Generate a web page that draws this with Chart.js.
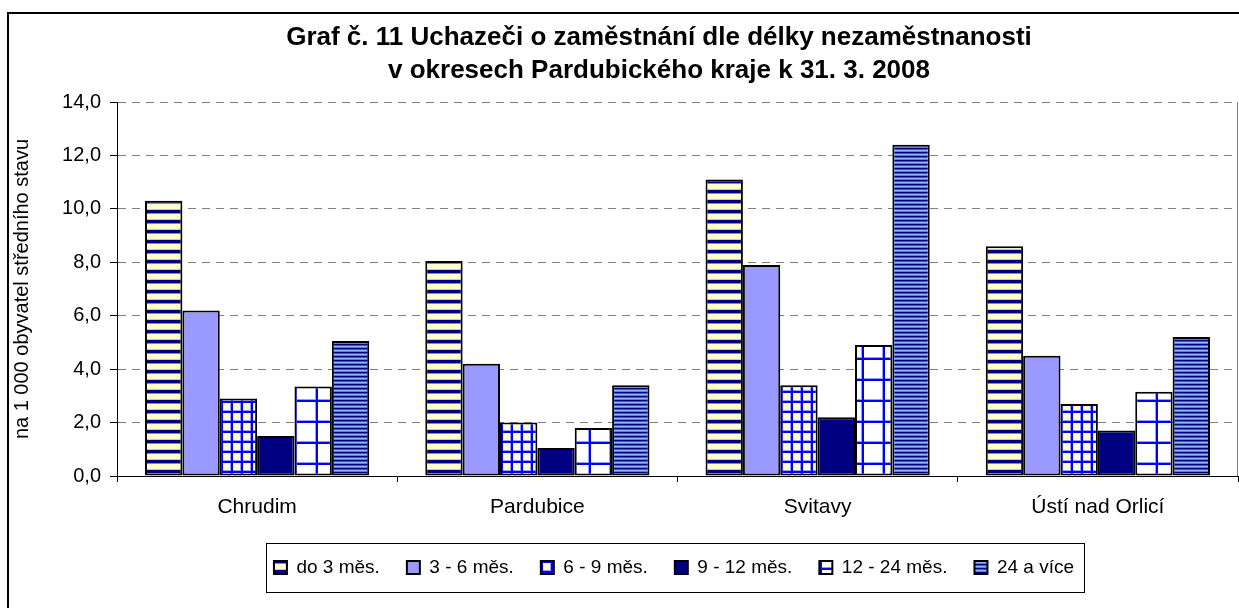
<!DOCTYPE html>
<html lang="cs">
<head>
<meta charset="UTF-8">
<title>Graf č. 11</title>
<script src="https://cdn.jsdelivr.net/npm/chart.js"></script>
<style>
  html, body { margin: 0; padding: 0; background: #fff; }
  #wrap { position: relative; width: 1239px; height: 608px; }
</style>
</head>
<body>
<div id="wrap"><canvas id="chart"></canvas></div>
<script>
// data
const categories = ['Chrudim', 'Pardubice', 'Svitavy', 'Ústí nad Orlicí'];
const seriesNames = ['do 3 měs.', '3 - 6 měs.', '6 - 9 měs.', '9 - 12 měs.', '12 - 24 měs.', '24 a více'];
const do3 = [10.3, 8.05, 11.1, 8.6];
const m3to6 = [6.2, 4.2, 7.9, 4.5];
const m6to9 = [2.9, 2.0, 3.4, 2.7];
const m9to12 = [1.5, 1.05, 2.2, 1.7];
const m12to24 = [3.35, 1.8, 4.9, 3.15];
const m24plus = [5.05, 3.4, 12.4, 5.2];
const yTicks = [0, 2, 4, 6, 8, 10, 12, 14];

const FONT = 'Liberation Sans, Arial, sans-serif';

// small tiles used as fill patterns
function tile(w, h, draw) {
  const c = document.createElement('canvas');
  c.width = w; c.height = h;
  const g = c.getContext('2d');
  draw(g);
  return g.createPattern(c, 'repeat');
}
function rows(colors) {
  return tile(4, colors.length, g => {
    colors.forEach((col, i) => { g.fillStyle = col; g.fillRect(0, i, 4, 1); });
  });
}
const stripeYellow = rows(['#000080', '#000080', '#000080', '#8a8aa6', '#ffffcc', '#ffffcc', '#ffffcc', '#ffffcc', '#ffffcc', '#c8c8b4']);
const stripeBlue = rows(['#000080', '#3d5fb8', '#8fb4f5', '#5b80d2']);
function grid(size, bg) {
  return tile(size, size, g => {
    g.fillStyle = bg; g.fillRect(0, 0, size, size);
    g.fillStyle = '#9a9aff';
    g.fillRect(0, 0, 3, size); g.fillRect(0, 0, size, 3);
    g.fillStyle = '#0000ff';
    g.fillRect(1, 0, 2, size); g.fillRect(0, 1, size, 2);
  });
}
const gridYellow = grid(10, '#ffffcc');
const gridWhite = grid(21, '#ffffff');

const fills = [stripeYellow, '#9999ff', gridYellow, '#000080', gridWhite, stripeBlue];
const values = [do3, m3to6, m6to9, m9to12, m12to24, m24plus];

const frame = {
  id: 'frame',
  afterLayout(chart) {
    // the original frame runs past the right edge, so title and legend sit right of centre
    const t = chart.titleBlock;
    t.left += 35; t.right += 35;
    const lg = chart.legend;
    lg.left += 50; lg.right += 50;
  },
  afterDraw(chart) {
    const ctx = chart.ctx;
    const a = chart.chartArea;
    ctx.save();
    // outer frame (only top and left visible)
    ctx.strokeStyle = '#000';
    ctx.lineWidth = 2;
    ctx.strokeRect(8, 13, 1300, 700);
    // plot area right edge
    ctx.strokeStyle = '#808080';
    ctx.lineWidth = 1;
    ctx.beginPath();
    ctx.moveTo(a.right - 0.5, a.top);
    ctx.lineTo(a.right - 0.5, a.bottom);
    ctx.stroke();
    // legend box
    const boxes = chart.legend.legendHitBoxes;
    if (boxes && boxes.length) {
      let l = Infinity, r = -Infinity, t = Infinity, b = -Infinity;
      boxes.forEach(h => {
        l = Math.min(l, h.left); r = Math.max(r, h.left + h.width);
        t = Math.min(t, h.top); b = Math.max(b, h.top + h.height);
      });
      ctx.strokeStyle = '#000';
      ctx.strokeRect(Math.round(l - 8) + 0.5, Math.round(t - 15) + 0.5, Math.round(r - l + 18), Math.round(b - t + 30));
    }
    ctx.restore();
  }
};

new Chart(document.getElementById('chart'), {
  type: 'bar',
  data: {
    labels: categories,
    datasets: seriesNames.map((name, i) => ({
      label: name,
      data: values[i],
      backgroundColor: fills[i],
      borderColor: '#000',
      borderWidth: 2,
      borderSkipped: false
    }))
  },
  options: {
    responsive: true,
    maintainAspectRatio: false,
    animation: false,
    devicePixelRatio: 1,
    categoryPercentage: 0.8,
    barPercentage: 1.0,
    layout: { padding: { top: 21, left: 10, right: 1, bottom: 21 } },
    plugins: {
      title: {
        display: true,
        text: ['Graf č. 11 Uchazeči o zaměstnání dle délky nezaměstnanosti', 'v okresech Pardubického kraje k 31. 3. 2008'],
        color: '#000',
        font: { family: FONT, size: 26, weight: 'bold', lineHeight: 1.27 },
        padding: { top: 0, bottom: 15 }
      },
      legend: {
        position: 'bottom',
        labels: {
          color: '#000',
          boxWidth: 13,
          boxHeight: 13,
          padding: 27,
          font: { family: FONT, size: 19 }
        }
      },
      tooltip: { enabled: false }
    },
    scales: {
      x: {
        afterFit(scale) { scale.height = 55; },
        grid: { display: true, drawOnChartArea: false, drawTicks: true, tickLength: 6, color: '#000' },
        border: { display: true, color: '#000', width: 1 },
        ticks: { color: '#000', padding: 13, font: { family: FONT, size: 21 } }
      },
      y: {
        min: 0,
        max: 14,
        afterFit(scale) { scale.width = 107; },
        afterBuildTicks(scale) { scale.ticks = yTicks.map(v => ({ value: v })); },
        grid: { color: '#808080', tickColor: '#000', tickLength: 7, lineWidth: 1 },
        border: { display: true, color: '#000', width: 1, dash: [8, 6] },
        ticks: {
          color: '#000',
          padding: 9,
          font: { family: FONT, size: 20 },
          callback: v => v.toFixed(1).replace('.', ',')
        },
        title: {
          display: true,
          text: 'na 1 000 obyvatel středního stavu',
          color: '#000',
          font: { family: FONT, size: 20 },
          padding: { top: 0, bottom: 10 }
        }
      }
    }
  },
  plugins: [frame]
});
</script>
</body>
</html>
